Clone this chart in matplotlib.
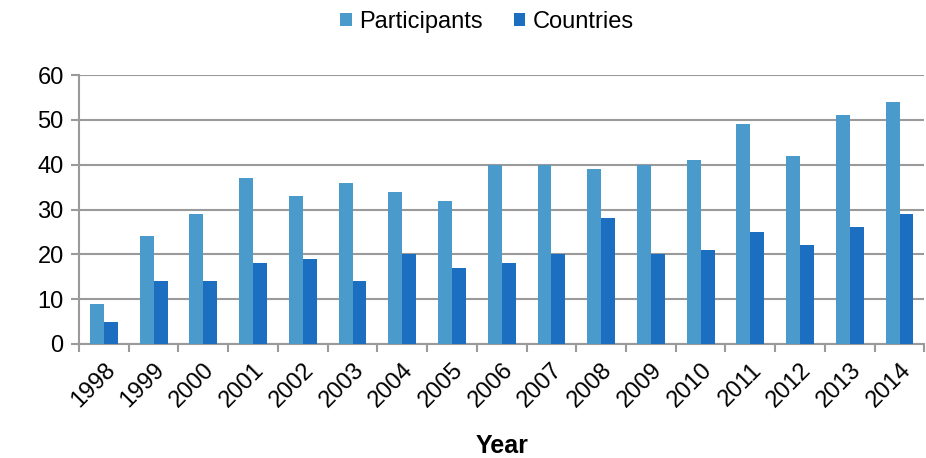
import matplotlib.pyplot as plt
import numpy as np

years = ['1998', '1999', '2000', '2001', '2002', '2003', '2004', '2005', '2006',
         '2007', '2008', '2009', '2010', '2011', '2012', '2013', '2014']
participants = [9, 24, 29, 37, 33, 36, 34, 32, 40, 40, 39, 40, 41, 49, 42, 51, 54]
countries = [5, 14, 14, 18, 19, 14, 20, 17, 18, 20, 28, 20, 21, 25, 22, 26, 29]

plt.rcParams['font.family'] = ['Liberation Sans', 'DejaVu Sans']
grey = '#9a9a9a'

fig = plt.figure(figsize=(9.26, 4.58), dpi=100)
ax = fig.add_axes([0.0853, 0.249, 0.913, 0.587])

x = np.arange(len(years))
w = 0.28
ax.bar(x - w/2, participants, w, color='#4a9bcb', label='Participants', zorder=3)
ax.bar(x + w/2, countries, w, color='#1c6fc0', label='Countries', zorder=3)

ax.set_xlim(-0.5, len(years) - 0.5)
ax.set_ylim(0, 60)
ax.set_yticks(range(0, 61, 10))
ax.yaxis.grid(True, color=grey, linewidth=1.5, zorder=0)
ax.tick_params(axis='y', length=6, width=1.5, color=grey, labelsize=17, pad=5)

# category boundary ticks on the x axis, labels centred under each group
ax.set_xticks(np.arange(-0.5, len(years)), minor=False)
ax.set_xticklabels([])
ax.set_xticks(x, minor=True)
ax.set_xticklabels(years, minor=True, rotation=45, ha='right', rotation_mode='anchor',
                   fontsize=17)
ax.tick_params(axis='x', which='major', length=6, width=1.5, color=grey)
ax.tick_params(axis='x', which='minor', length=0, pad=11)

for s in ['top', 'right']:
    ax.spines[s].set_visible(False)
for s in ['left', 'bottom']:
    ax.spines[s].set_color(grey)
    ax.spines[s].set_linewidth(1.5)

ax.set_xlabel('Year', fontsize=18, fontweight='bold', labelpad=16)

fig.legend(loc='center', bbox_to_anchor=(0.526, 0.952), ncol=2, frameon=False,
           fontsize=17, handlelength=0.5, handleheight=0.5, handletextpad=0.3,
           columnspacing=1.3)

plt.savefig('out.png', dpi=100)
